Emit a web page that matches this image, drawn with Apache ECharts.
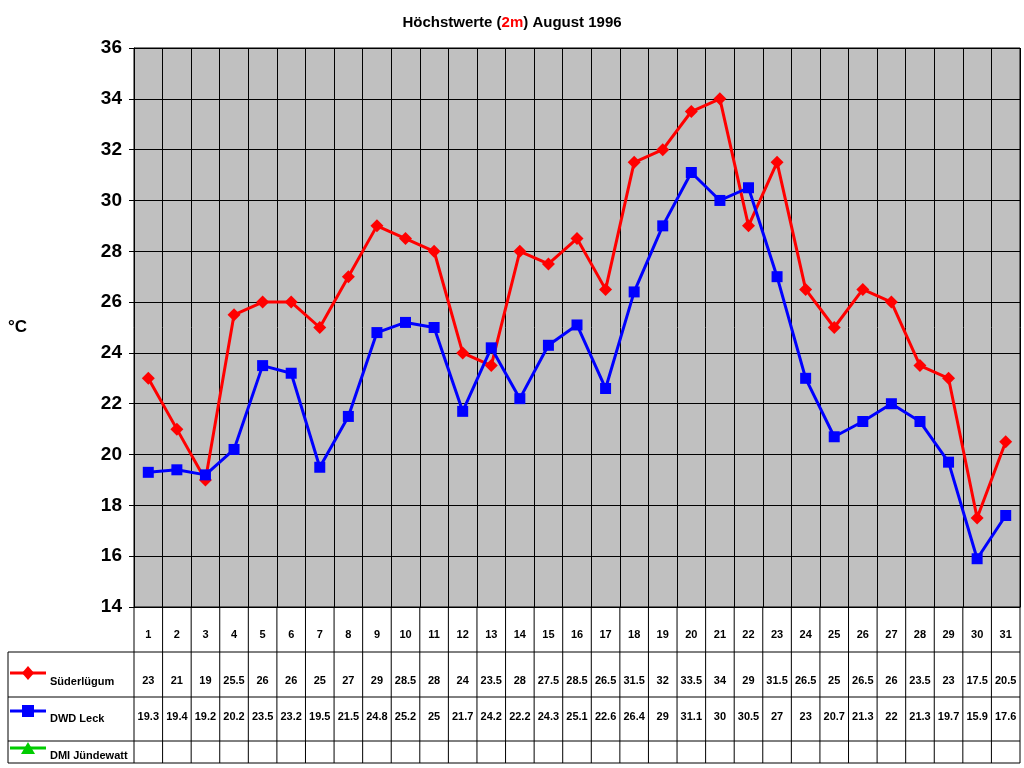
<!DOCTYPE html>
<html>
<head>
<meta charset="utf-8">
<script src="https://cdn.jsdelivr.net/npm/echarts@6/dist/echarts.min.js"></script>
<style>html,body{margin:0;padding:0;background:#fff}#c{width:1024px;height:768px}</style>
</head>
<body>
<div id="c"></div>
<script>
// Tage im August 1996
const days = Array.from({ length: 31 }, (_, i) => String(i + 1));
const suederluegum = [23, 21, 19, 25.5, 26, 26, 25, 27, 29, 28.5, 28, 24, 23.5, 28, 27.5, 28.5, 26.5, 31.5, 32, 33.5, 34, 29, 31.5, 26.5, 25, 26.5, 26, 23.5, 23, 17.5, 20.5];
const dwdLeck = [19.3, 19.4, 19.2, 20.2, 23.5, 23.2, 19.5, 21.5, 24.8, 25.2, 25, 21.7, 24.2, 22.2, 24.3, 25.1, 22.6, 26.4, 29, 31.1, 30, 30.5, 27, 23, 20.7, 21.3, 22, 21.3, 19.7, 15.9, 17.6];
const yTicks = [14, 36, 2];

/* Layout (Pixel) */
const L = 134, R = 1020, T = 48, B = 607;
const rowLines = [652, 697, 741, 763];
const font = 'bold 11px Arial, "Liberation Sans", sans-serif';

const chart = echarts.init(document.getElementById('c'));
const cw = (R - L) / days.length;
const cx = (i) => L + cw * (i + 0.5);

/* Datentabelle unter dem Diagramm */
const g = [];
const line = (x1, y1, x2, y2, stroke, lw) => g.push({ type: 'line', shape: { x1, y1, x2, y2 }, style: { stroke: stroke || '#000', lineWidth: lw || 1 }, silent: true });
const txt = (x, y, t, align) => g.push({ type: 'text', x, y, style: { text: t, font, fill: '#000', align: align || 'center', verticalAlign: 'middle' }, silent: true });

for (let i = 0; i <= days.length; i++) line(L + cw * i, B, L + cw * i, 763);
rowLines.forEach((y) => line(8, y, R, y));
line(8, 652, 8, 763);
days.forEach((d, i) => {
  txt(cx(i), 635, d);
  txt(cx(i), 681, String(suederluegum[i]));
  txt(cx(i), 717, String(dwdLeck[i]));
});
// Legendenschlüssel
const shapes = {
  diamond: [[0, -7], [6, 0], [0, 7], [-6, 0]],
  square: [[-6, -6], [6, -6], [6, 6], [-6, 6]],
  triangle: [[0, -6], [7, 6], [-7, 6]],
};
const legend = [
  { name: 'Süderlügum', color: '#ff0000', y: 673, ty: 682, sym: 'diamond' },
  { name: 'DWD Leck', color: '#0000ff', y: 711, ty: 719, sym: 'square' },
  { name: 'DMI Jündewatt', color: '#00cc00', y: 748, ty: 756, sym: 'triangle' },
];
legend.forEach((l) => {
  line(10, l.y, 46, l.y, l.color, 3);
  g.push({ type: 'polygon', shape: { points: shapes[l.sym] }, x: 28, y: l.y, style: { fill: l.color }, silent: true });
  txt(50, l.ty, l.name, 'left');
});
g.push({ type: 'text', x: 8, y: 327, style: { text: '°C', font: 'bold 17px Arial, "Liberation Sans", sans-serif', fill: '#000', verticalAlign: 'middle' } });

chart.setOption({
  animation: false,
  title: {
    text: '{a|Höchstwerte (}{b|2m}{a|) August 1996}',
    left: 'center', top: 10,
    textStyle: { rich: {
      a: { fontSize: 15, fontWeight: 'bold', fontFamily: 'Arial', color: '#000' },
      b: { fontSize: 15, fontWeight: 'bold', fontFamily: 'Arial', color: '#ff0000', textDecoration: 'underline' },
    } },
  },
  grid: { left: L, right: 1024 - R, top: T, bottom: 768 - B, backgroundColor: '#c0c0c0', show: true, borderColor: '#000', borderWidth: 1 },
  xAxis: {
    type: 'category', data: days, boundaryGap: true,
    axisLabel: { show: false }, axisTick: { show: false },
    axisLine: { lineStyle: { color: '#000' } },
    splitLine: { show: true, interval: 0, lineStyle: { color: '#000', width: 1 } },
  },
  yAxis: {
    type: 'value', min: yTicks[0], max: yTicks[1], interval: yTicks[2],
    axisLine: { show: true, lineStyle: { color: '#000' } },
    axisTick: { show: true, lineStyle: { color: '#000' } },
    axisLabel: { color: '#000', fontSize: 19, fontWeight: 'bold', fontFamily: 'Arial', margin: 12 },
    splitLine: { lineStyle: { color: '#000', width: 1 } },
  },
  series: [
    { name: 'Süderlügum', type: 'line', data: suederluegum, symbol: 'diamond', symbolSize: 13, itemStyle: { color: '#ff0000' }, lineStyle: { width: 3, color: '#ff0000' } },
    { name: 'DWD Leck', type: 'line', data: dwdLeck, symbol: 'rect', symbolSize: 11, itemStyle: { color: '#0000ff' }, lineStyle: { width: 3, color: '#0000ff' } },
  ],
  graphic: g,
});
</script>
</body>
</html>
